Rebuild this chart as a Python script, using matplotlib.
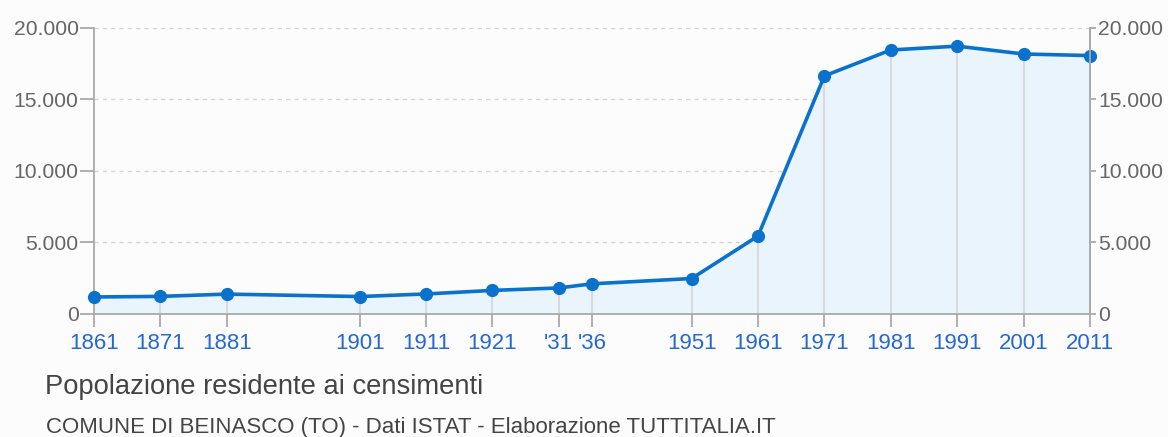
import matplotlib
matplotlib.use("Agg")
import matplotlib.pyplot as plt

# Census population, Beinasco (TO)
years = [1861, 1871, 1881, 1901, 1911, 1921, 1931, 1936, 1951, 1961,
         1971, 1981, 1991, 2001, 2011]
population = [1190, 1230, 1390, 1220, 1400, 1650, 1820, 2110, 2480, 5450,
              16650, 18460, 18730, 18180, 18070]
year_labels = ["1861", "1871", "1881", "1901", "1911", "1921", "'31", "'36",
               "1951", "1961", "1971", "1981", "1991", "2001", "2011"]
y_ticks = [0, 5000, 10000, 15000, 20000]
y_labels = ["0", "5.000", "10.000", "15.000", "20.000"]

BG = "#fcfcfc"
LINE = "#0a72cc"
FILL = "#eaf4fc"
AXIS = "#aaaaaa"
GRID = "#d4d4d4"
TXT = "#666666"
XTXT = "#2468d4"

plt.rcParams["font.family"] = ["Liberation Sans", "DejaVu Sans"]

fig = plt.figure(figsize=(11.68, 4.37), dpi=100)
fig.patch.set_facecolor(BG)
ax = fig.add_axes([0.0805, 0.2815, 0.8527, 0.6545])
ax.set_facecolor(BG)

ax.set_xlim(years[0], years[-1])
ax.set_ylim(0, 20000)

# horizontal dashed grid
for v in y_ticks[1:]:
    ax.axhline(v, color=GRID, lw=1, ls=(0, (3, 3)), zorder=0)

ax.fill_between(years, population, 0, color=FILL, lw=0, zorder=1)
# vertical grid only under the curve
ax.vlines(years, 0, population, color=GRID, lw=1.2, zorder=2)
ax.plot(years, population, color=LINE, lw=2.6, marker="o", ms=8.5,
        zorder=4, clip_on=False)

for side in ["left", "right", "bottom"]:
    ax.spines[side].set_color(AXIS)
    ax.spines[side].set_linewidth(1.3)
ax.spines["top"].set_visible(False)

ax.set_yticks(y_ticks)
ax.set_yticklabels(y_labels)
ax.set_xticks(years)
ax.set_xticklabels(year_labels)
ax.tick_params(axis="y", left=True, right=False, length=10, width=1.3,
               color=AXIS, labelcolor=TXT, labelsize=15.2, pad=1)
ax.tick_params(axis="x", length=9.5, width=1.3, color=AXIS, labelcolor=XTXT,
               labelsize=16, pad=4)

# right-hand axis with the same scale
ax2 = ax.twinx()
ax2.set_ylim(ax.get_ylim())
ax2.set_yticks(y_ticks)
ax2.set_yticklabels(y_labels)
ax2.tick_params(axis="y", length=4, width=1.3, color=AXIS, labelcolor=TXT,
                labelsize=15.2, pad=2)
for side in ["left", "top", "bottom"]:
    ax2.spines[side].set_visible(False)
ax2.spines["right"].set_color(AXIS)
ax2.spines["right"].set_linewidth(1.3)

fig.text(45 / 1168, 1 - 387 / 437, "Popolazione residente ai censimenti",
         ha="left", va="center", fontsize=19.7, color="#444444")
fig.text(46 / 1168, 1 - 428 / 437,
         "COMUNE DI BEINASCO (TO) - Dati ISTAT - Elaborazione TUTTITALIA.IT",
         ha="left", va="center", fontsize=16, color="#444444")

fig.savefig("out.png", dpi=100, facecolor=fig.get_facecolor())
